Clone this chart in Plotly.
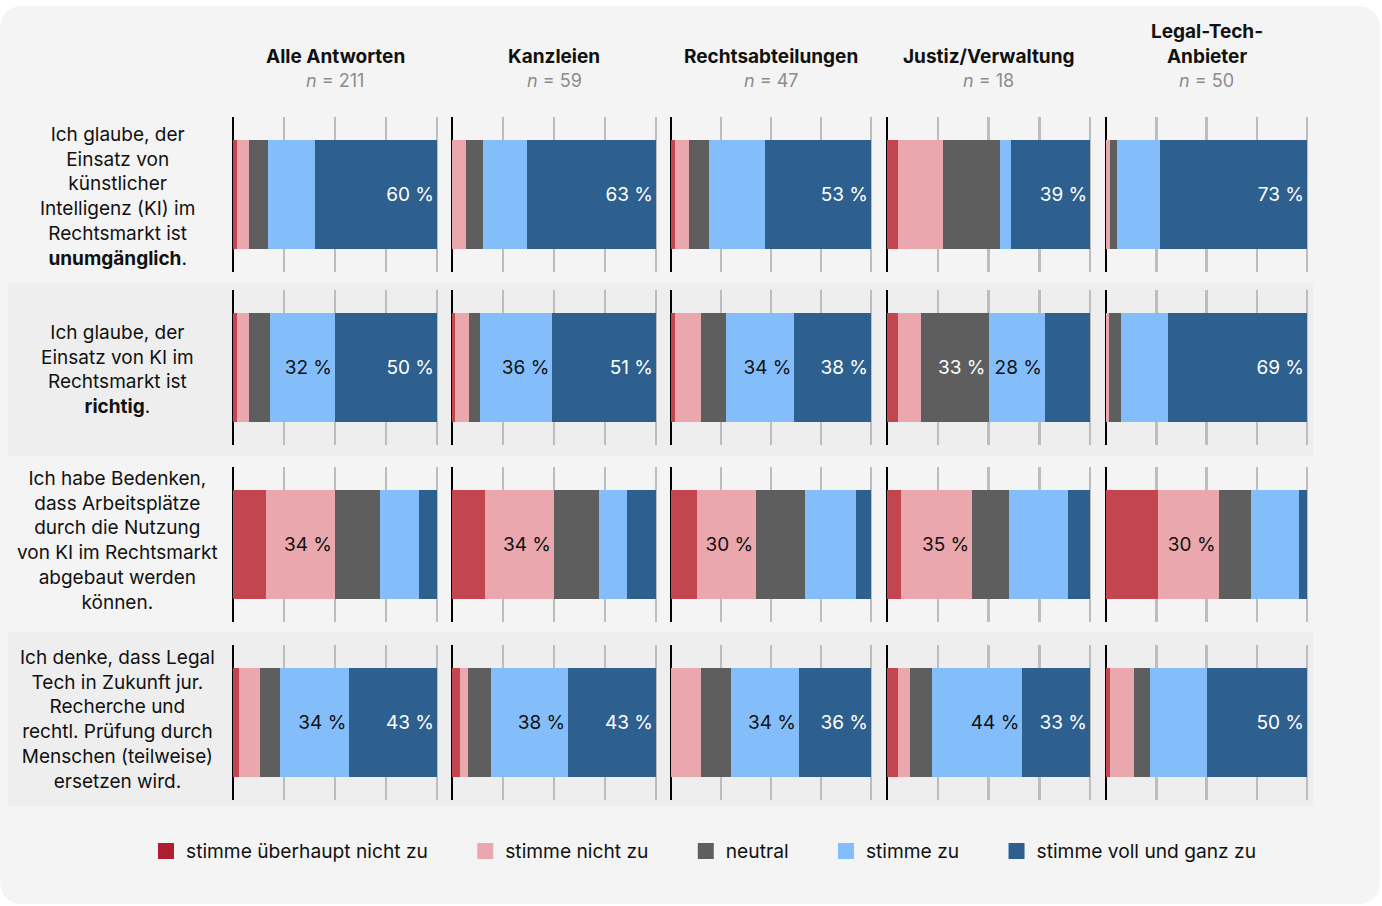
import plotly.graph_objects as go

# ---------------- data ----------------
groups = ["Alle Antworten", "Kanzleien", "Rechtsabteilungen", "Justiz/Verwaltung", "Legal-Tech-<br>Anbieter"]
group_n = [211, 59, 47, 18, 50]

statements = [
    "Ich glaube, der<br>Einsatz von<br>künstlicher<br>Intelligenz (KI) im<br>Rechtsmarkt ist<br><b>unumgänglich</b>.",
    "Ich glaube, der<br>Einsatz von KI im<br>Rechtsmarkt ist<br><b>richtig</b>.",
    "Ich habe Bedenken,<br>dass Arbeitsplätze<br>durch die Nutzung<br>von KI im Rechtsmarkt<br>abgebaut werden<br>können.",
    "Ich denke, dass Legal<br>Tech in Zukunft jur.<br>Recherche und<br>rechtl. Prüfung durch<br>Menschen (teilweise)<br>ersetzen wird.",
]

categories = ["stimme überhaupt nicht zu", "stimme nicht zu", "neutral", "stimme zu", "stimme voll und ganz zu"]

# values in % per group: [überhaupt nicht, nicht, neutral, zu, voll und ganz]
stmt1_values = [
    [2, 6, 9, 23, 60],
    [0, 7, 8, 22, 63],
    [2, 7, 10, 28, 53],
    [5.6, 22.2, 27.8, 5.6, 38.9],
    [0, 2, 3.5, 21.5, 73],
]
stmt2_values = [
    [2, 6, 10, 32, 50],
    [1.7, 6.8, 5.1, 35.6, 50.8],
    [2.1, 12.8, 12.8, 34, 38.3],
    [5.6, 11.1, 33.3, 27.8, 22.2],
    [0, 1.5, 6, 23.5, 69],
]
stmt3_values = [
    [16, 34, 22, 19, 9],
    [16, 34, 22, 14, 14],
    [12.8, 29.8, 24.3, 25.7, 7.4],
    [7, 35, 18, 29, 11],
    [26, 30, 16, 24, 4],
]
stmt4_values = [
    [3, 10, 10, 34, 43],
    [4, 4, 11, 38, 43],
    [0, 15, 15, 34, 36],
    [5.6, 5.6, 11.1, 44.4, 33.3],
    [2, 12, 8, 28, 50],
]
all_values = [stmt1_values, stmt2_values, stmt3_values, stmt4_values]

# category indices whose value is printed, per statement and group
stmt1_labelled = [[4], [4], [4], [4], [4]]
stmt2_labelled = [[3, 4], [3, 4], [3, 4], [2, 3], [4]]
stmt3_labelled = [[1], [1], [1], [1], [1]]
stmt4_labelled = [[3, 4], [3, 4], [3, 4], [3, 4], [4]]
all_labelled = [stmt1_labelled, stmt2_labelled, stmt3_labelled, stmt4_labelled]

# ---------------- style ----------------
FONT = "Inter"
bar_colors = ["#C3454F", "#EAA8AE", "#5E5E5E", "#84BEFA", "#2D5F8F"]
legend_colors = ["#AD1F31", "#EAA8AE", "#5E5E5E", "#84BEFA", "#2D5F8F"]
text_colors = ["#FFFFFF", "#111111", "#FFFFFF", "#111111", "#FFFFFF"]

W, H = 1382, 906
col_x0 = [233, 452, 671, 887, 1106]
col_x1 = [437, 656, 871, 1090, 1307]
row_y0 = [117, 290, 467, 645]
row_y1 = [272, 445, 622, 800]
label_yc = [196, 369, 540, 719]
PAD = 1.5
LEG_PAD = "\u00a0" * 6


def px(x):
    return x / W


def py(y):
    return 1 - y / H


fig = go.Figure()
layout_axes = {}

for r in range(4):
    for c in range(5):
        k = r * 5 + c + 1
        xa = "x" if k == 1 else f"x{k}"
        ya = "y" if k == 1 else f"y{k}"
        ppp = (col_x1[c] - col_x0[c]) / 100.0
        xd = [px(col_x0[c] - PAD * ppp), px(col_x1[c] + PAD * ppp)]
        yd = [py(row_y1[r]), py(row_y0[r])]
        layout_axes["xaxis" if k == 1 else f"xaxis{k}"] = dict(
            domain=xd, range=[-PAD, 100 + PAD], anchor=ya,
            tickmode="linear", tick0=0, dtick=25,
            showgrid=True, gridcolor="#BDBDBD", gridwidth=2.5,
            zeroline=True, zerolinecolor="#000000", zerolinewidth=2.6,
            showticklabels=False, ticks="", showline=False, fixedrange=True,
        )
        layout_axes["yaxis" if k == 1 else f"yaxis{k}"] = dict(
            domain=yd, range=[-0.5, 0.5], anchor=xa,
            showgrid=False, zeroline=False, showticklabels=False,
            showline=False, ticks="", fixedrange=True,
        )
        vals = all_values[r][c]
        labelled = all_labelled[r][c]
        for i, v in enumerate(vals):
            txt = f"{round(v)} %" if i in labelled else ""
            fig.add_trace(go.Bar(
                x=[v], y=[0], orientation="h",
                xaxis=xa, yaxis=ya,
                marker=dict(color=bar_colors[i], line=dict(width=0)),
                text=[txt], textposition="inside", insidetextanchor="end",
                textfont=dict(family=FONT, size=19, color=text_colors[i]),
                constraintext="none",
                showlegend=False, hoverinfo="skip", name=categories[i],
            ))

# legend entries
for i, cat in enumerate(categories):
    fig.add_trace(go.Scatter(
        x=[None], y=[None], xaxis="x", yaxis="y", mode="markers",
        marker=dict(symbol="square", size=16, color=legend_colors[i]),
        name=cat + (LEG_PAD if i < len(categories) - 1 else ""),
        showlegend=True, hoverinfo="skip",
    ))

# shapes: rounded background + row bands
L, T, R, B, rad = 0, 6, 1380, 904, 24
rx, ry = rad / W, rad / H
path = (
    f"M {px(L)+rx},{py(T)} L {px(R)-rx},{py(T)} Q {px(R)},{py(T)} {px(R)},{py(T)-ry} "
    f"L {px(R)},{py(B)+ry} Q {px(R)},{py(B)} {px(R)-rx},{py(B)} "
    f"L {px(L)+rx},{py(B)} Q {px(L)},{py(B)} {px(L)},{py(B)+ry} "
    f"L {px(L)},{py(T)-ry} Q {px(L)},{py(T)} {px(L)+rx},{py(T)} Z"
)
shapes = [dict(type="path", path=path, xref="paper", yref="paper",
               fillcolor="#F4F4F4", line=dict(width=0), layer="below")]
for (y0, y1) in [(283, 456), (632, 806)]:
    shapes.append(dict(type="rect", xref="paper", yref="paper",
                       x0=px(8), x1=px(1313), y0=py(y1), y1=py(y0),
                       fillcolor="#EEEEEE", line=dict(width=0), layer="below"))

annotations = []
for c in range(5):
    xc = px((col_x0[c] + col_x1[c]) / 2)
    annotations.append(dict(
        x=xc, y=py(70), xref="paper", yref="paper", xanchor="center", yanchor="bottom",
        text=f"<b>{groups[c]}</b>", showarrow=False, align="center",
        font=dict(family=FONT, size=19, color="#111111"),
    ))
    annotations.append(dict(
        x=xc, y=py(80), xref="paper", yref="paper", xanchor="center", yanchor="middle",
        text=f"<i>n</i> = {group_n[c]}", showarrow=False,
        font=dict(family=FONT, size=18, color="#8C8C8C"),
    ))
for r in range(4):
    annotations.append(dict(
        x=px(118), y=py(label_yc[r]), xref="paper", yref="paper", xanchor="center", yanchor="middle",
        text=statements[r], showarrow=False, align="center",
        font=dict(family=FONT, size=19, color="#111111"),
    ))

fig.update_layout(
    width=W, height=H, autosize=False,
    margin=dict(l=0, r=0, t=0, b=0, pad=0),
    paper_bgcolor="#FFFFFF", plot_bgcolor="rgba(0,0,0,0)",
    barmode="stack", bargap=0.3,
    showlegend=True,
    legend=dict(orientation="h", traceorder="normal",
                x=px(146), xanchor="left", y=py(851), yanchor="middle",
                font=dict(family=FONT, size=19.2, color="#111111"),
                bgcolor="rgba(0,0,0,0)", itemclick=False, itemdoubleclick=False),
    shapes=shapes, annotations=annotations,
    font=dict(family=FONT),
    **layout_axes,
)

fig.write_html("out.html", include_plotlyjs=True, config={"displayModeBar": False, "staticPlot": True})
